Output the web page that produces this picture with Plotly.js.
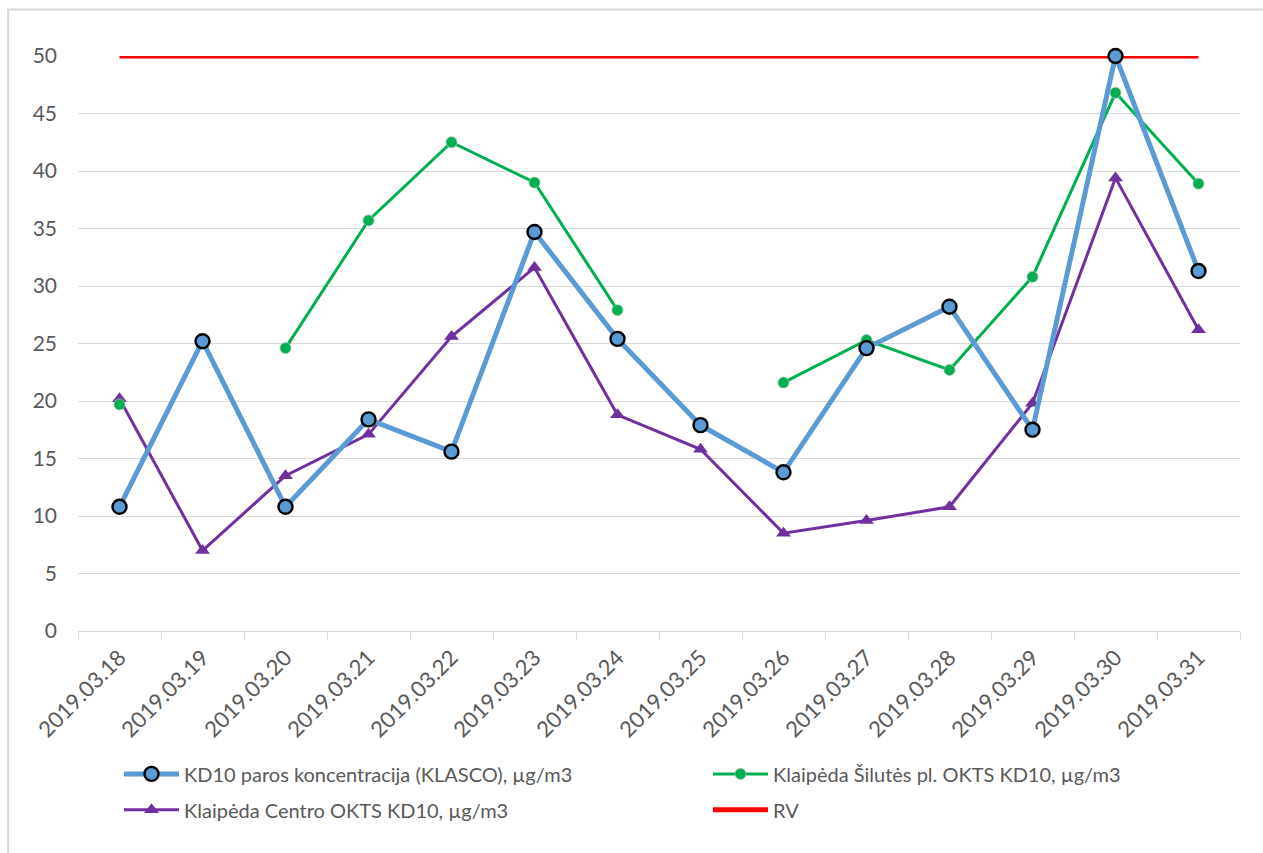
<!DOCTYPE html>
<html>
<head>
<meta charset="utf-8">
<script src="https://cdn.plot.ly/plotly-3.0.1.min.js"></script>
<style>html,body{margin:0;padding:0;background:#fff;}#chart{width:1263px;height:853px;}</style>
</head>
<body>
<div id="chart"></div>
<script>
const dates = ["2019.03.18","2019.03.19","2019.03.20","2019.03.21","2019.03.22","2019.03.23","2019.03.24","2019.03.25","2019.03.26","2019.03.27","2019.03.28","2019.03.29","2019.03.30","2019.03.31"];
const klasco = [10.8, 25.2, 10.8, 18.4, 15.6, 34.7, 25.4, 17.9, 13.8, 24.6, 28.2, 17.5, 50.0, 31.3];
const silutes = [19.7, null, 24.6, 35.7, 42.5, 39.0, 27.9, null, 21.6, 25.3, 22.7, 30.8, 46.8, 38.9];
const centro = [20.2, 7.0, 13.5, 17.1, 25.6, 31.6, 18.8, 15.8, 8.5, 9.6, 10.8, 19.8, 39.4, 26.2];
const rv = [50, 50, 50, 50, 50, 50, 50, 50, 50, 50, 50, 50, 50, 50];
const names = ["KD10 paros koncentracija (KLASCO), µg/m3", "Klaipėda Šilutės pl. OKTS KD10, µg/m3", "Klaipėda Centro OKTS KD10, µg/m3", "RV"];
const yTicks = [0, 5, 10, 15, 20, 25, 30, 35, 40, 45, 50];

const FONT = "Lato, 'Open Sans', sans-serif";
const tRV = {x: dates, y: rv, name: names[3], type: "scatter", mode: "lines", legend: "legend4",
   line: {color: "#FF0000", width: 5}, cliponaxis: false};
const tCentro = {x: dates, y: centro, name: names[2], type: "scatter", mode: "lines+markers", legend: "legend3",
   line: {color: "#7030A0", width: 3}, marker: {symbol: "triangle-up", size: 13, color: "#7030A0"}, cliponaxis: false};
const tSil = {x: dates, y: silutes, name: names[1], type: "scatter", mode: "lines+markers", legend: "legend2",
   line: {color: "#00B050", width: 3}, marker: {symbol: "circle", size: 11, color: "#00B050", line: {color: "#9dbfa8", width: 0.8}}, connectgaps: false, cliponaxis: false};
const tKlasco = {x: dates, y: klasco, name: names[0], type: "scatter", mode: "lines+markers", legend: "legend",
   line: {color: "#5B9BD5", width: 5}, marker: {symbol: "circle", size: 14, color: "#5B9BD5", line: {color: "#000000", width: 2.4}}, cliponaxis: false};

function leg(xpx, ypx) {
  return {x: (xpx - 78) / 1162, xanchor: "left", y: (631 - ypx) / 575.5, yanchor: "middle",
    orientation: "v", itemwidth: 55, bgcolor: "rgba(0,0,0,0)",
    font: {family: FONT, size: 20, color: "#595959"}};
}

const layout = {
  width: 1263, height: 853,
  margin: {l: 78, r: 23, t: 55.5, b: 222, autoexpand: false},
  paper_bgcolor: "#ffffff", plot_bgcolor: "#ffffff",
  font: {family: FONT, color: "#595959", size: 20},
  showlegend: true,
  legend: leg(119, 774),
  legend2: leg(708, 774),
  legend3: leg(119, 810),
  legend4: leg(708, 810),
  xaxis: {type: "category", categoryorder: "array", categoryarray: dates, automargin: false,
    range: [-0.5, 13.5], autorange: false,
    tickangle: -45, tickson: "boundaries", ticks: "outside", ticklen: 8, tickcolor: "#d9d9d9",
    ticklabelstandoff: 4,
    showline: true, linecolor: "#d9d9d9", linewidth: 1, showgrid: false, zeroline: false,
    tickfont: {family: FONT, size: 22, color: "#595959"}, fixedrange: true},
  yaxis: {range: [0, 50], autorange: false, tickvals: yTicks, ticktext: yTicks.map(String), automargin: false,
    showgrid: true, gridcolor: "#d9d9d9", gridwidth: 1, zeroline: false, showline: false,
    ticks: "", ticklabelstandoff: 20,
    tickfont: {family: FONT, size: 21, color: "#595959"}, fixedrange: true},
  shapes: [{type: "rect", xref: "paper", yref: "paper", x0: -0.0602, x1: 1.05, y0: -0.6, y1: 1.0808,
    line: {color: "#d9d9d9", width: 2}, fillcolor: "rgba(0,0,0,0)", layer: "below"}]
};
Plotly.newPlot("chart", [tRV, tCentro, tSil, tKlasco], layout, {displayModeBar: false, staticPlot: true});
</script>
</body>
</html>
